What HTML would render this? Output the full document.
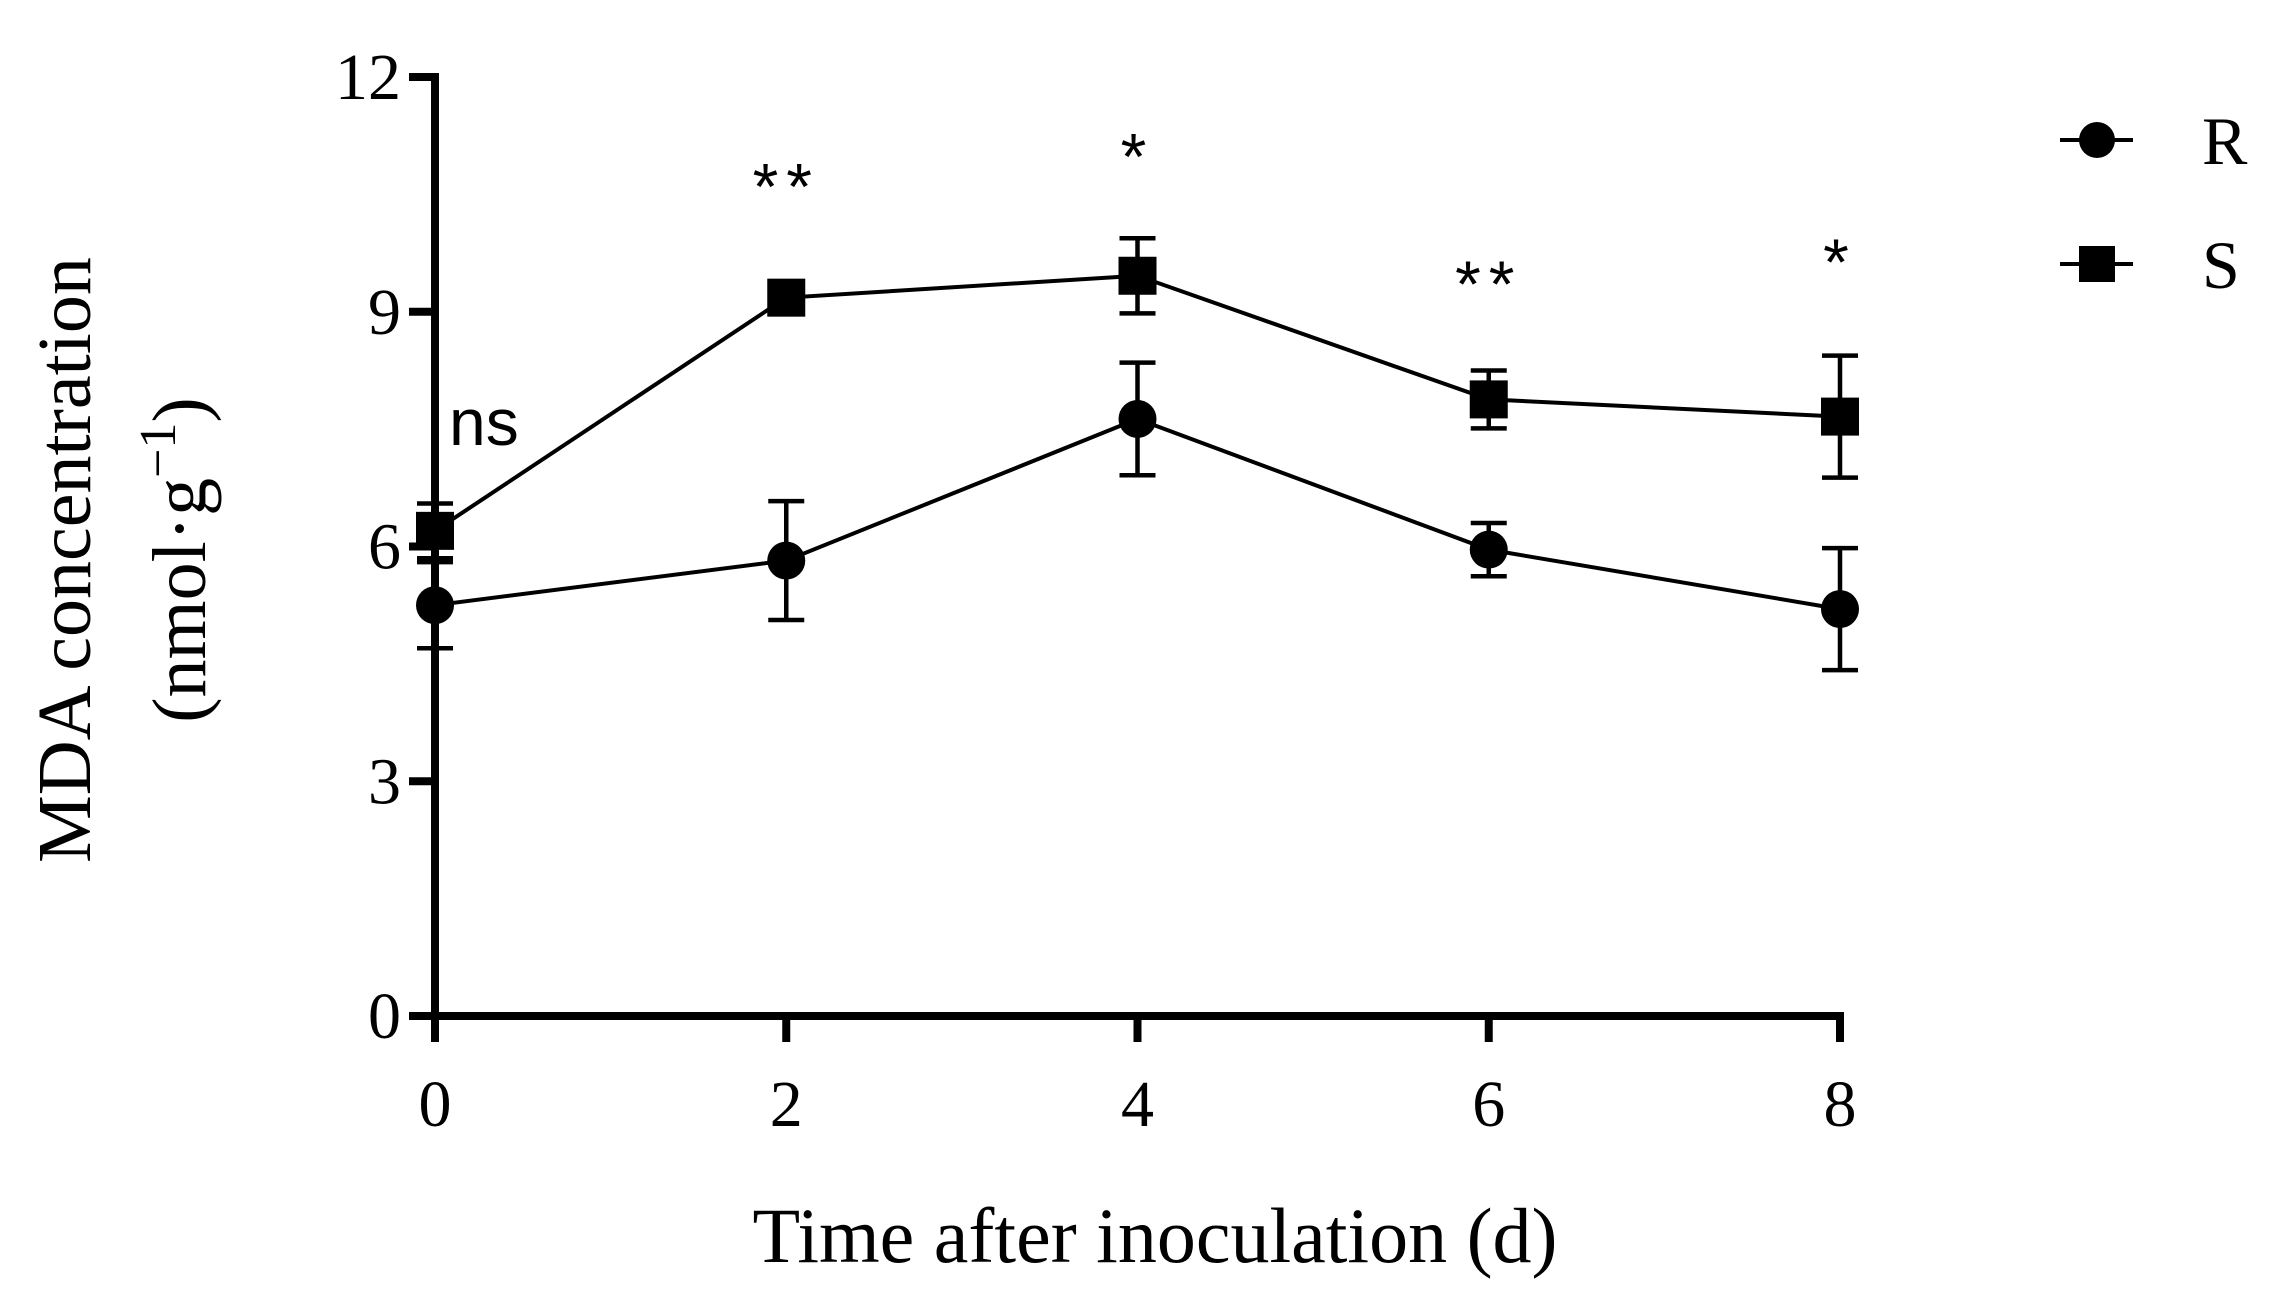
<!DOCTYPE html>
<html><head><meta charset="utf-8"><style>
html,body{margin:0;padding:0;background:#fff;}
svg{display:block;}
text{fill:#000;}
</style></head><body>
<svg id="chart" width="2271" height="1307" viewBox="0 0 2271 1307" xmlns="http://www.w3.org/2000/svg">
<g id="axes"></g>
<g id="plot"></g>
<g id="legend"></g>
</svg>
<script>
const days = [0, 2, 4, 6, 8];
const rValues = [5.25, 5.82, 7.63, 5.96, 5.2];
const rErrors = [0.55, 0.76, 0.72, 0.34, 0.78];
const sValues = [6.2, 9.18, 9.46, 7.88, 7.66];
const sErrors = [0.35, 0.1, 0.48, 0.37, 0.78];
const sigLabels = ["ns", "**", "*", "**", "*"];
const sigLevels = [7.3, 10.82, 11.2, 9.57, 9.85];
const yTicks = [0, 3, 6, 9, 12];
const xTicks = [0, 2, 4, 6, 8];

const NS = "http://www.w3.org/2000/svg";
const X0 = 435, X1 = 1840, Y0 = 1016, Y1 = 77;
const xs = d => X0 + (d - 0) / 8 * (X1 - X0);
const ys = v => Y0 - v / 12 * (Y0 - Y1);
function mk(parent, tag, attrs, txt) {
  const e = document.createElementNS(NS, tag);
  for (const k in attrs) e.setAttribute(k, attrs[k]);
  if (txt !== undefined) e.textContent = txt;
  parent.appendChild(e);
  return e;
}
const axes = document.getElementById('axes');
const plot = document.getElementById('plot');
const legend = document.getElementById('legend');
const serif = '"Liberation Serif", serif';
const sans = '"Liberation Sans", sans-serif';

let e = mk(axes, 'line', {x1: X0, y1: Y1 - 4, x2: X0, y2: Y0 + 4, stroke: '#000', 'stroke-width': 8});


e = mk(axes, 'line', {x1: X0 - 4, y1: Y0, x2: X1 + 4, y2: Y0, stroke: '#000', 'stroke-width': 8});


yTicks.forEach(t => {
  const y = ys(t);
  let l = mk(axes, 'line', {x1: X0 - 26, y1: y, x2: X0, y2: y, stroke: '#000', 'stroke-width': 8});
  
  
  let tx = mk(axes, 'text', {x: X0 - 34, y: y + 22, 'text-anchor': 'end', 'font-family': serif, 'font-size': 66}, String(t));
  
  
});
xTicks.forEach(t => {
  const x = xs(t);
  let l = mk(axes, 'line', {x1: x, y1: Y0, x2: x, y2: Y0 + 26, stroke: '#000', 'stroke-width': 8});
  
  
  let tx = mk(axes, 'text', {x: x, y: Y0 + 110, 'text-anchor': 'middle', 'font-family': serif, 'font-size': 66}, String(t));
  
  
});
e = mk(axes, 'text', {x: 1155, y: 1262, 'text-anchor': 'middle', 'font-family': serif, 'font-size': 78}, 'Time after inoculation (d)');


e = mk(axes, 'text', {x: 0, y: 0, 'text-anchor': 'middle', 'font-family': serif, 'font-size': 76, transform: 'translate(90,560) rotate(-90)'}, 'MDA concentration');


e = mk(axes, 'text', {x: 0, y: 0, 'text-anchor': 'middle', 'font-family': serif, 'font-size': 76, transform: 'translate(205,560) rotate(-90)'});


mk(e, 'tspan', {}, '(nmol·g');
mk(e, 'tspan', {dy: -30, 'font-size': 52}, '−1');
mk(e, 'tspan', {dy: 30}, ')');

function series(vals, errs, name, shape) {
  const g = mk(plot, 'g', {});
  
  
  const pts = days.map((d, i) => xs(d) + ',' + ys(vals[i])).join(' ');
  const pl = mk(g, 'polyline', {points: pts, fill: 'none', stroke: '#000', 'stroke-width': 4});
  
  
  days.forEach((d, i) => {
    const x = xs(d), yt = ys(vals[i] + errs[i]), yb = ys(vals[i] - errs[i]);
    const eg = mk(g, 'path', {d: `M${x},${yt}V${yb}M${x-18},${yt}H${x+18}M${x-18},${yb}H${x+18}`, stroke: '#000', 'stroke-width': 4.5, fill: 'none'});
    
    
    let m;
    if (shape === 'circle') m = mk(g, 'circle', {cx: x, cy: ys(vals[i]), r: 19, fill: '#000'});
    else m = mk(g, 'rect', {x: x - 19, y: ys(vals[i]) - 19, width: 38, height: 38, fill: '#000'});
    
    
  });
}
series(rValues, rErrors, 'r', 'circle');
series(sValues, sErrors, 's', 'square');

days.forEach((d, i) => {
  const isNs = sigLabels[i] === 'ns';
  const t = mk(plot, 'text', {x: isNs ? xs(d) + 14 : xs(d), y: ys(sigLevels[i]) + (isNs ? 0 : 40), 'text-anchor': isNs ? 'start' : 'middle', 'font-family': sans, 'font-size': 66, 'letter-spacing': isNs ? 0 : 8}, sigLabels[i]);
  
  
});

function legendEntry(y, label, shape) {
  const g = mk(legend, 'g', {});
  
  
  mk(g, 'line', {x1: 2060, y1: y, x2: 2133, y2: y, stroke: '#000', 'stroke-width': 4});
  if (shape === 'circle') mk(g, 'circle', {cx: 2097, cy: y, r: 18, fill: '#000'});
  else mk(g, 'rect', {x: 2079, y: y - 18, width: 36, height: 36, fill: '#000'});
  mk(g, 'text', {x: 2202, y: y + 24, 'font-family': serif, 'font-size': 68}, label);
}
legendEntry(140, 'R', 'circle');
legendEntry(264, 'S', 'square');
</script>
</body></html>
